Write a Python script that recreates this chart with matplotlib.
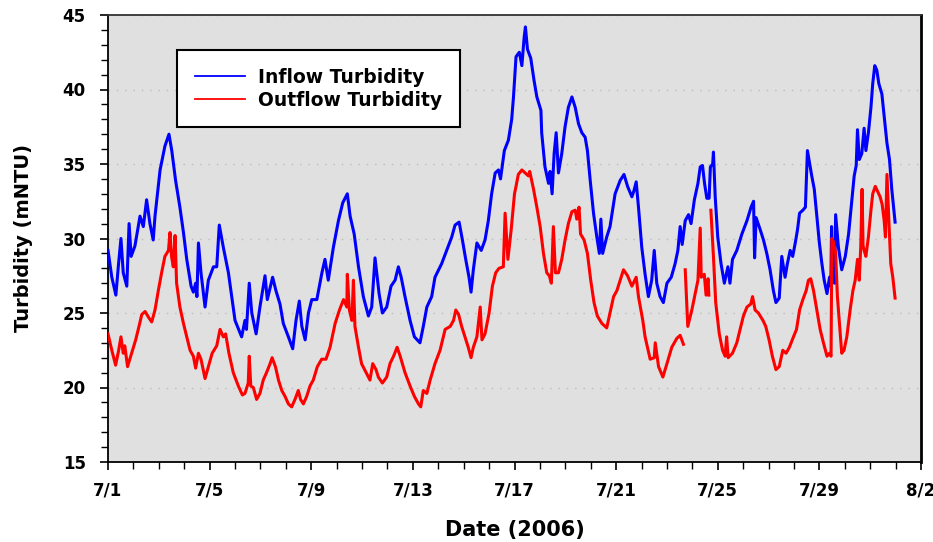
import numpy as np
import matplotlib
matplotlib.use("Agg")
import matplotlib.pyplot as plt
from matplotlib.ticker import MultipleLocator

# ---- data (day offset from 7/1/2006, turbidity in mNTU) ----
inflow_day = [0.00,0.15,0.31,0.41,0.51,0.60,0.74,0.83,0.91,1.06,1.26,1.39,1.52,1.65,1.78,1.85,2.05,2.24,2.40,2.51,
 2.66,2.83,2.97,3.10,3.27,3.36,3.45,3.50,3.56,3.66,3.82,3.95,4.15,4.28,4.38,4.54,4.74,4.87,5.00,5.26,
 5.39,5.45,5.56,5.66,5.83,5.98,6.18,6.27,6.48,6.61,6.77,6.90,7.10,7.27,7.40,7.53,7.63,7.76,7.89,8.02,
 8.22,8.42,8.54,8.67,8.87,9.07,9.24,9.42,9.53,9.69,9.86,10.05,10.25,10.38,10.51,10.67,10.80,10.97,11.14,11.30,
 11.43,11.54,11.69,11.89,12.06,12.28,12.41,12.55,12.74,12.87,13.13,13.33,13.53,13.66,13.82,13.95,14.08,14.21,14.29,14.38,
 14.52,14.69,14.84,14.97,15.10,15.24,15.37,15.45,15.60,15.76,15.89,15.96,16.06,16.19,16.29,16.38,16.43,16.51,16.64,16.77,
 16.88,17.04,17.07,17.20,17.34,17.40,17.48,17.56,17.64,17.73,17.86,17.99,18.12,18.26,18.39,18.52,18.65,18.78,18.87,18.98,
 19.11,19.24,19.34,19.40,19.47,19.63,19.76,19.96,20.16,20.31,20.45,20.62,20.70,20.79,20.88,21.01,21.14,21.27,21.40,21.50,
 21.60,21.73,21.86,22.00,22.17,22.32,22.43,22.52,22.60,22.72,22.85,22.95,23.08,23.22,23.31,23.40,23.48,23.57,23.66,23.71,
 23.80,23.83,23.90,24.00,24.13,24.26,24.40,24.48,24.58,24.75,24.95,25.15,25.31,25.41,25.45,25.51,25.67,25.80,25.93,26.06,
 26.19,26.29,26.42,26.52,26.65,26.74,26.85,26.95,27.05,27.14,27.22,27.35,27.45,27.53,27.61,27.70,27.80,27.90,28.00,28.10,
 28.19,28.30,28.40,28.45,28.48,28.52,28.60,28.64,28.75,28.88,29.02,29.15,29.28,29.37,29.45,29.50,29.57,29.67,29.76,29.83,
 29.93,30.03,30.10,30.18,30.26,30.34,30.46,30.55,30.66,30.76,30.85,30.98]
inflow_val = [29.2,27.4,26.2,28.2,30.0,27.7,26.8,31.0,28.8,29.5,31.5,30.8,32.6,31.0,29.9,31.5,34.6,36.2,37.0,35.9,
 33.9,32.1,30.4,28.6,26.8,26.4,27.0,26.1,29.7,27.7,25.4,27.2,28.1,28.1,30.9,29.4,27.7,26.1,24.5,23.4,
 24.5,23.9,27.0,25.0,23.6,25.4,27.5,25.9,27.4,26.5,25.6,24.3,23.4,22.6,24.5,25.8,24.1,23.2,25.0,25.9,
 25.9,27.7,28.6,27.2,29.4,31.2,32.4,33.0,31.5,30.3,28.1,26.1,24.8,25.4,28.7,26.3,25.0,25.4,26.8,27.2,
 28.1,27.4,26.1,24.5,23.4,23.0,24.1,25.4,26.1,27.4,28.3,29.2,30.1,30.9,31.1,29.9,28.6,27.4,26.4,27.9,
 29.7,29.2,29.9,31.2,33.0,34.4,34.6,34.0,35.9,36.6,38.0,39.5,42.2,42.5,41.6,43.5,44.2,42.7,42.1,40.6,
 39.5,38.6,37.1,34.8,33.7,34.5,33.0,35.7,37.1,34.4,35.7,37.5,38.8,39.5,38.8,37.7,37.1,36.8,35.9,33.9,
 31.7,30.1,29.0,31.3,29.0,30.1,30.8,33.0,33.9,34.3,33.5,32.8,33.2,33.8,32.1,29.4,27.6,26.1,27.2,29.2,
 27.0,26.1,25.7,27.0,27.4,28.3,29.2,30.8,29.6,31.2,31.6,31.0,32.6,33.7,34.8,34.9,33.7,32.7,32.7,34.8,
 35.0,35.8,32.8,30.1,28.3,27.0,28.1,27.0,28.6,29.2,30.3,31.2,32.1,32.5,28.7,31.4,30.6,29.9,29.0,27.9,
 26.5,25.7,26.0,28.8,27.4,28.3,29.2,28.8,29.7,30.6,31.7,31.9,32.1,35.9,35.1,34.2,33.3,31.5,29.7,28.3,
 27.2,26.3,27.4,26.8,30.8,27.2,27.0,31.6,29.4,27.9,28.8,30.3,32.6,34.2,34.9,37.3,35.3,35.7,37.4,35.9,
 37.1,38.8,40.4,41.6,41.3,40.4,39.7,38.2,36.4,35.3,33.3,31.1]

outflow_day = [0.00,0.15,0.30,0.42,0.51,0.60,0.66,0.77,0.93,1.09,1.22,1.33,1.46,1.60,1.72,1.85,1.98,2.11,2.24,2.38,
 2.44,2.50,2.57,2.64,2.70,2.83,2.97,3.10,3.23,3.36,3.45,3.56,3.66,3.82,3.95,4.10,4.28,4.41,4.54,4.63,
 4.76,4.93,5.13,5.29,5.39,5.52,5.56,5.62,5.72,5.85,5.98,6.11,6.24,6.38,6.46,6.59,6.71,6.84,6.97,7.10,
 7.23,7.36,7.49,7.58,7.69,7.82,7.95,8.08,8.24,8.41,8.58,8.74,8.94,9.11,9.27,9.40,9.42,9.50,9.60,9.66,
 9.72,9.86,9.98,10.16,10.31,10.42,10.55,10.64,10.80,10.97,11.10,11.24,11.38,11.50,11.69,11.89,12.06,12.22,12.31,12.41,
 12.55,12.68,12.87,13.07,13.27,13.47,13.60,13.69,13.80,13.92,14.05,14.18,14.29,14.38,14.52,14.65,14.72,14.84,15.00,15.13,
 15.26,15.39,15.56,15.63,15.74,15.87,16.00,16.06,16.15,16.29,16.42,16.55,16.60,16.75,16.88,17.01,17.14,17.27,17.37,17.45,
 17.53,17.61,17.73,17.86,17.99,18.12,18.26,18.39,18.45,18.54,18.60,18.74,18.87,19.00,19.13,19.26,19.44,19.63,19.90,20.03,
 20.29,20.45,20.62,20.79,20.88,21.05,21.14,21.34,21.50,21.54,21.67,21.84,22.00,22.19,22.39,22.52,22.65,22.68,22.72,22.82,
 22.98,23.11,23.22,23.31,23.35,23.47,23.54,23.62,23.65,23.69,23.73,23.83,23.92,24.06,24.19,24.29,24.35,24.41,24.58,24.75,
 24.88,25.01,25.15,25.30,25.37,25.47,25.60,25.78,25.89,26.02,26.15,26.29,26.42,26.56,26.69,26.82,26.98,27.10,27.22,27.35,
 27.48,27.57,27.66,27.77,27.90,28.03,28.16,28.30,28.40,28.46,28.49,28.55,28.64,28.71,28.79,28.88,28.97,29.08,29.21,29.32,
 29.41,29.50,29.57,29.63,29.68,29.72,29.76,29.83,29.93,30.03,30.10,30.20,30.28,30.39,30.47,30.55,30.60,30.66,30.74,30.81,
 30.89,30.98]
outflow_val = [23.6,22.5,21.5,22.5,23.4,22.3,22.8,21.4,22.3,23.2,24.1,24.9,25.1,24.7,24.4,25.2,26.5,27.7,28.8,29.2,
 30.4,28.8,28.1,30.2,27.0,25.4,24.3,23.4,22.5,22.1,21.3,22.3,21.9,20.6,21.4,22.3,22.8,23.9,23.4,23.6,
 22.3,21.0,20.1,19.5,19.6,20.3,22.1,20.1,20.0,19.2,19.6,20.5,21.0,21.6,22.0,21.4,20.5,19.8,19.4,18.9,
 18.7,19.2,19.8,19.2,18.9,19.4,20.1,20.5,21.4,21.9,21.9,22.7,24.3,25.2,25.9,25.4,27.6,25.2,24.5,27.2,
 24.1,22.7,21.6,21.0,20.5,21.6,21.2,20.7,20.3,20.7,21.6,22.1,22.7,22.1,21.0,20.1,19.4,18.9,18.7,19.8,
 19.6,20.5,21.6,22.5,23.9,24.1,24.5,25.2,24.9,24.1,23.4,22.7,22.0,22.7,23.4,25.4,23.2,23.6,25.0,26.8,
 27.7,28.0,28.1,31.7,28.6,30.6,33.0,33.5,34.3,34.6,34.4,34.2,34.5,33.3,32.1,30.8,29.0,27.7,27.5,27.0,
 30.8,27.7,27.7,28.6,29.9,31.0,31.8,31.9,31.3,32.1,30.3,29.9,29.0,27.2,25.7,24.8,24.3,24.0,26.1,26.5,
 27.9,27.5,26.8,27.4,26.1,24.5,23.4,21.9,22.0,23.0,21.4,20.7,21.6,22.7,23.3,23.5,22.9,np.nan,27.9,24.1,
 25.2,26.3,27.2,30.7,27.4,27.6,26.2,27.3,26.2,np.nan,31.9,28.8,25.7,23.6,22.5,22.1,23.4,22.0,22.3,23.0,
 23.9,24.8,25.4,25.6,26.1,25.2,25.0,24.5,24.1,23.2,22.1,21.2,21.4,22.5,22.3,22.7,23.4,23.9,25.2,25.9,
 26.5,27.2,27.3,26.5,25.2,23.9,23.0,22.1,22.3,22.1,30.0,29.8,29.0,26.1,24.3,22.3,22.5,23.4,25.2,26.5,
 27.2,28.6,27.2,29.5,33.3,29.5,29.2,28.8,30.1,31.9,33.0,33.5,33.2,32.8,32.3,31.2,30.1,34.3,31.0,28.3,
 27.4,26.0]

xtick_days = [0, 4, 8, 12, 16, 20, 24, 28, 32]
xtick_labels = ["7/1", "7/5", "7/9", "7/13", "7/17", "7/21", "7/25", "7/29", "8/2"]
series_labels = ["Inflow Turbidity", "Outflow Turbidity"]

plt.rcParams['font.family'] = ['DejaVu Sans']

fig = plt.figure(figsize=(9.33, 5.42), dpi=100)
ax = fig.add_axes([108/933, 1-462/542, (921-108)/933, (462-15)/542])
ax.set_facecolor('#e0e0e0')

ax.plot(inflow_day, inflow_val, color='#0000ff', lw=2.2, label=series_labels[0], zorder=3)
ax.plot(outflow_day, outflow_val, color='#ff0000', lw=2.2, label=series_labels[1], zorder=3)

ax.set_xlim(0, 32)
ax.set_ylim(15, 45)
ax.set_xticks(xtick_days)
ax.set_xticklabels(xtick_labels)
ax.xaxis.set_minor_locator(MultipleLocator(1))
ax.yaxis.set_major_locator(MultipleLocator(5))
ax.yaxis.set_minor_locator(MultipleLocator(1))

for lab in ax.get_xticklabels() + ax.get_yticklabels():
    lab.set_fontweight('bold')
    lab.set_fontsize(12)
ax.tick_params(axis='both', which='major', length=6, width=1.2, direction='out', color='black')
ax.tick_params(axis='both', which='minor', length=5, width=1.0, direction='out', color='black')
ax.tick_params(axis='x', which='major', pad=8)
ax.tick_params(axis='y', which='major', pad=10)

ax.yaxis.grid(True, which='major', linestyle=(0, (1, 5)), color='#bcbcbc', lw=1.0)
ax.set_axisbelow(True)

for s in ['left', 'bottom', 'top']:
    ax.spines[s].set_color('black')
    ax.spines[s].set_linewidth(1.3)
ax.spines['top'].set_color('#333333')
ax.spines['right'].set_color('black')
ax.spines['right'].set_linewidth(2.0)

ax.set_xlabel('Date (2006)', fontsize=15, fontweight='bold')
ax.xaxis.set_label_coords(0.5, (462 - 520) / 447)
ax.set_ylabel('Turbidity (mNTU)', fontsize=14, fontweight='bold')
ax.yaxis.set_label_coords((33 - 108) / 813, 0.5)

leg = ax.legend(loc='upper left', bbox_to_anchor=(69/813, (462-50)/447), frameon=True, fancybox=False,
                edgecolor='black', facecolor='white', framealpha=1.0,
                prop={'weight': 'bold', 'size': 13.5}, handlelength=2.7, handletextpad=0.65,
                borderpad=0.95, labelspacing=0.2, borderaxespad=0)
leg.get_frame().set_linewidth(1.5)
for line in leg.get_lines():
    line.set_linewidth(1.3)

fig.savefig('out.png', dpi=100)
